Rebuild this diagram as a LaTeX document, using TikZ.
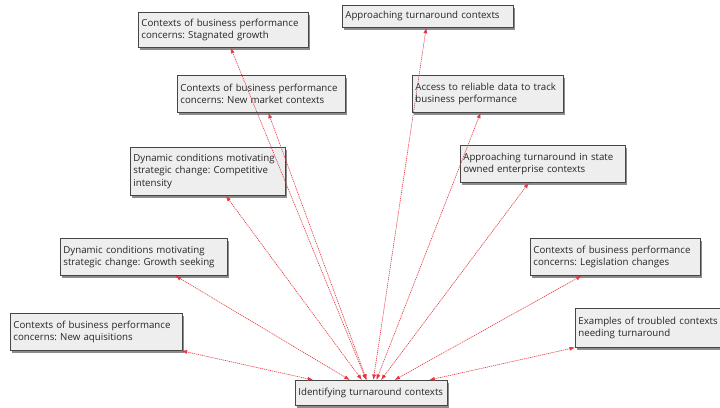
\documentclass[tikz,border=0pt]{standalone}
\usepackage{fontspec}
\setmainfont{Open Sans}
\frenchspacing
\usetikzlibrary{arrows.meta,shadows}
\definecolor{linkred}{RGB}{232,52,62}
\definecolor{boxfill}{RGB}{238,238,238}
\definecolor{boxline}{RGB}{70,70,70}
\begin{document}
\begin{tikzpicture}[x=1pt,y=-1pt,
  topic/.style={draw=boxline, line width=0.8pt, fill=boxfill,
    drop shadow={shadow xshift=2pt, shadow yshift=-2.2pt, fill=black!60, opacity=0.75},
    anchor=north west, align=left, inner xsep=3pt, inner ysep=2pt,
    font=\fontsize{9.7}{12.6}\selectfont, text=black!85},
  link/.style={draw=linkred, line width=0.6pt, dash pattern=on 1.2pt off 0.8pt,
    {Latex[length=5.5pt,width=4pt]}-{Latex[length=5.5pt,width=4pt]}}]
\useasboundingbox (0,0) rectangle (720,407);
\clip (0,0) rectangle (720,407);
\fill[white] (0,0) rectangle (720,407);

\node[topic, text width=164pt, minimum height=35pt] (sg) at (138,12)
  {Contexts of business performance\\concerns: Stagnated growth};
\node[topic, text width=165pt, minimum height=22pt] (at) at (342,5)
  {Approaching turnaround contexts};
\node[topic, text width=162pt, minimum height=37pt] (nm) at (177,75)
  {Contexts of business performance\\concerns: New market contexts};
\node[topic, text width=145pt, minimum height=37pt] (ar) at (412,75)
  {Access to reliable data to track\\business performance};
\node[topic, text width=149pt, minimum height=48pt] (ci) at (130,147)
  {Dynamic conditions motivating\\strategic change: Competitive\\intensity};
\node[topic, text width=159pt, minimum height=37pt] (so) at (460,145)
  {Approaching turnaround in state\\owned enterprise contexts};
\node[topic, text width=161pt, minimum height=37pt] (gs) at (60,238)
  {Dynamic conditions motivating\\strategic change: Growth seeking};
\node[topic, text width=164pt, minimum height=37pt] (lc) at (530,238)
  {Contexts of business performance\\concerns: Legislation changes};
\node[topic, text width=166pt, minimum height=37pt] (na) at (10,313)
  {Contexts of business performance\\concerns: New aquisitions};
\node[topic, text width=170pt, minimum height=39pt] (ex) at (575,308)
  {Examples of troubled contexts\\needing turnaround};
\node[topic, text width=146pt, minimum height=25pt] (id) at (295,380)
  {Identifying turnaround contexts};

\foreach \t in {sg,at,nm,ar,ci,so,gs,lc,na,ex}
  \draw[link] (id) -- (\t);
\end{tikzpicture}
\end{document}
